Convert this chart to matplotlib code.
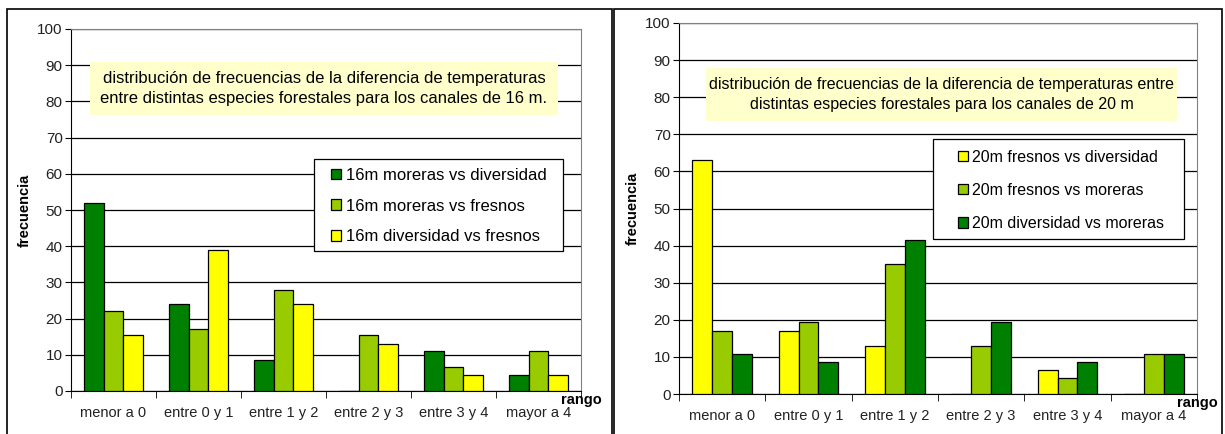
import numpy as np
import matplotlib.pyplot as plt
from matplotlib.patches import Rectangle

plt.rcParams['font.family'] = ['Liberation Sans', 'DejaVu Sans']

categorias = ['menor a 0', 'entre 0 y 1', 'entre 1 y 2', 'entre 2 y 3', 'entre 3 y 4', 'mayor a 4']

# canales de 16 m
m16_moreras_diversidad = [52, 24, 8.5, 0, 11, 4.5]
m16_moreras_fresnos = [22, 17, 28, 15.5, 6.5, 11]
m16_diversidad_fresnos = [15.5, 39, 24, 13, 4.5, 4.5]

# canales de 20 m
m20_fresnos_diversidad = [63, 17, 13, 0, 6.5, 0]
m20_fresnos_moreras = [17, 19.5, 35, 13, 4.3, 10.8]
m20_diversidad_moreras = [10.8, 8.6, 41.5, 19.5, 8.6, 10.8]

VERDE = '#008000'
VERDE_CLARO = '#99CC00'
AMARILLO = '#FFFF00'

W, H = 1225, 434
fig = plt.figure(figsize=(W / 100, H / 100), dpi=100)
fig.patch.set_facecolor('white')


def px(x0, y0, x1, y1):
    return [x0 / W, 1 - y1 / H, (x1 - x0) / W, (y1 - y0) / H]


def caja(r, **kw):
    b = px(*r)
    fig.patches.append(Rectangle((b[0], b[1]), b[2], b[3], transform=fig.transFigure, **kw))


def panel(rect, series, titulo, title_box, tsize, legend_box, leg_anchor, lsize, lspacing):
    ax = fig.add_axes(px(*rect))
    x = np.arange(len(categorias))
    bw = 0.23
    for i, (vals, col, lab) in enumerate(series):
        ax.bar(x + (i - 1) * bw, vals, bw, color=col, edgecolor='black',
               linewidth=0.9, label=lab, zorder=3)
    ax.set_xlim(-0.5, len(categorias) - 0.5)
    ax.set_ylim(0, 100)
    ax.set_yticks(range(0, 101, 10))
    ax.yaxis.grid(True, color='black', linewidth=0.9, zorder=0)
    ax.set_xticks(x)
    ax.set_xticklabels(categorias, fontsize=10.5, color='#222222')
    ax.set_xticks(np.arange(-0.5, len(categorias)), minor=True)
    ax.tick_params(axis='x', which='major', length=0, pad=11)
    ax.tick_params(axis='x', which='minor', length=5, direction='out')
    ax.tick_params(axis='y', length=4, direction='out', labelsize=11,
                   labelcolor='#222222', pad=2)
    for s in ['top', 'right']:
        ax.spines[s].set_color('#808080')
    ax.spines['left'].set_color('black')
    ax.spines['bottom'].set_color('black')
    ax.set_ylabel('frecuencia', fontsize=10.5, fontweight='bold', labelpad=4)
    ax.text(1.0, -0.005, 'rango', transform=ax.transAxes, fontsize=10.5,
            fontweight='bold', ha='center', va='top')

    caja(title_box, facecolor='#FFFFCC', edgecolor='none', zorder=5)
    tb = px(*title_box)
    fig.text(tb[0] + tb[2] / 2, tb[1] + tb[3] / 2, titulo, ha='center', va='center',
             fontsize=tsize, linespacing=1.5, zorder=6)

    # marco de la leyenda y leyenda sin marco encima
    caja(legend_box, facecolor='white', edgecolor='black', linewidth=0.9, zorder=6)
    leg = fig.legend(*ax.get_legend_handles_labels(), loc='upper left',
                     bbox_to_anchor=(leg_anchor[0] / W, 1 - leg_anchor[1] / H),
                     frameon=False, fontsize=lsize, handlelength=0.6,
                     handleheight=0.6, handletextpad=0.3, labelspacing=lspacing,
                     borderpad=0, borderaxespad=0)
    leg.set_zorder(7)
    return ax


panel((71, 29, 581, 391),
      [(m16_moreras_diversidad, VERDE, '16m moreras vs diversidad'),
       (m16_moreras_fresnos, VERDE_CLARO, '16m moreras vs fresnos'),
       (m16_diversidad_fresnos, AMARILLO, '16m diversidad vs fresnos')],
      'distribución de frecuencias de la diferencia de temperaturas\n'
      'entre distintas especies forestales para los canales de 16 m.',
      (90, 62, 558, 115), 12, (314, 159, 563, 251), (331, 168), 12, 0.94)

panel((679, 23, 1197, 394),
      [(m20_fresnos_diversidad, AMARILLO, '20m fresnos vs diversidad'),
       (m20_fresnos_moreras, VERDE_CLARO, '20m fresnos vs moreras'),
       (m20_diversidad_moreras, VERDE, '20m diversidad vs moreras')],
      'distribución de frecuencias de la diferencia de temperaturas entre\n'
      'distintas especies forestales para los canales de 20 m',
      (706, 68, 1177, 121), 11.5, (933, 139, 1184, 239), (958, 150), 11.5, 1.13)

# marcos de los paneles
for r in [(7, 9, 612, 440), (614, 9, 1222, 440)]:
    caja(r, facecolor='none', edgecolor='black', linewidth=1.2, zorder=10)

fig.savefig('out.png', dpi=100)
